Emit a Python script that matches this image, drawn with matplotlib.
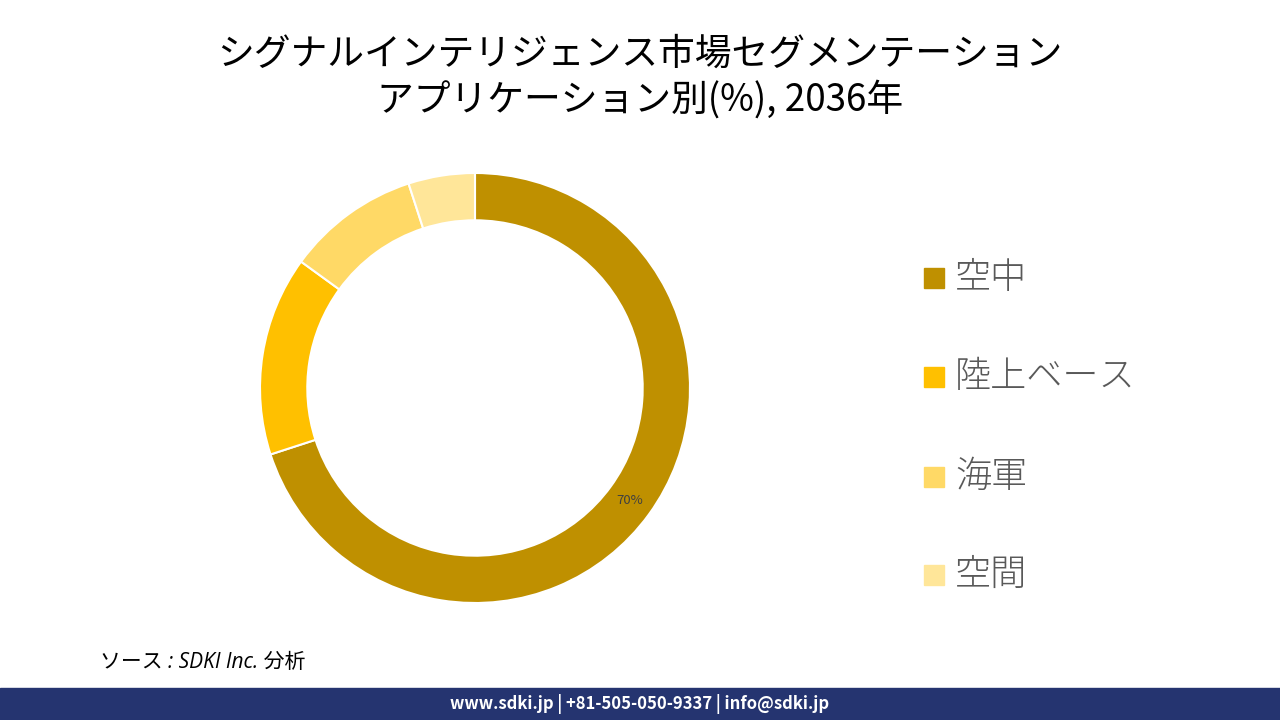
import matplotlib
matplotlib.use("Agg")
import numpy as np
import matplotlib.pyplot as plt
from matplotlib.patches import Rectangle

plt.rcParams['font.family'] = ['Noto Sans CJK JP', 'DejaVu Sans']

categories = ['空中', '陸上ベース', '海軍', '空間']
shares = [70, 15, 10, 5]
colors = ['#BF9000', '#FFC000', '#FFD966', '#FFE699']
title = 'シグナルインテリジェンス市場セグメンテーション\nアプリケーション別(%), 2036年'

fig = plt.figure(figsize=(12.8, 7.2), dpi=100)

# donut
ax = fig.add_axes([260 / 1280, 117 / 720, 430 / 1280, 430 / 720])
wedges, _ = ax.pie(shares, colors=colors, startangle=90, counterclock=False,
                   radius=1.0, wedgeprops=dict(width=0.22, edgecolor='white', linewidth=1.5))
ax.set_xlim(-1, 1)
ax.set_ylim(-1, 1)
ax.set_aspect('equal')
ax.axis('off')

# only the big slice carries a label
w = wedges[0]
mid = np.deg2rad((w.theta1 + w.theta2) / 2)
ax.text(0.89 * np.cos(mid), 0.89 * np.sin(mid), f'{shares[0]}%',
        ha='center', va='center', fontsize=9.5, color='#404040')

fig.text(0.5, 1 - 77 / 720, title, ha='center', va='center', fontsize=26.5,
         color='black', linespacing=1.25)

# legend
ys = [278, 377, 477, 575]
for cat, col, y in zip(categories, colors, ys):
    fig.patches.append(Rectangle((924 / 1280, 1 - (y + 10) / 720), 20 / 1280, 20 / 720,
                                 transform=fig.transFigure, color=col))
    fig.text(955 / 1280, 1 - y / 720, cat, ha='left', va='center',
             fontsize=26, fontweight='light', color='#595959')

fig.text(100 / 1280, 1 - 663 / 720, 'ソース : SDKI Inc. 分析', ha='left', va='center',
         fontsize=15, style='italic', color='black',
         family=['Open Sans', 'Noto Sans CJK JP'])

# footer bar
fig.patches.append(Rectangle((0, 0), 1, 32 / 720, transform=fig.transFigure,
                             color='#253470'))
fig.text(0.5, 16 / 720, 'www.sdki.jp | +81-505-050-9337 | info@sdki.jp',
         ha='center', va='center', fontsize=12, fontweight='bold', color='white')

fig.savefig('out.png', dpi=100)
